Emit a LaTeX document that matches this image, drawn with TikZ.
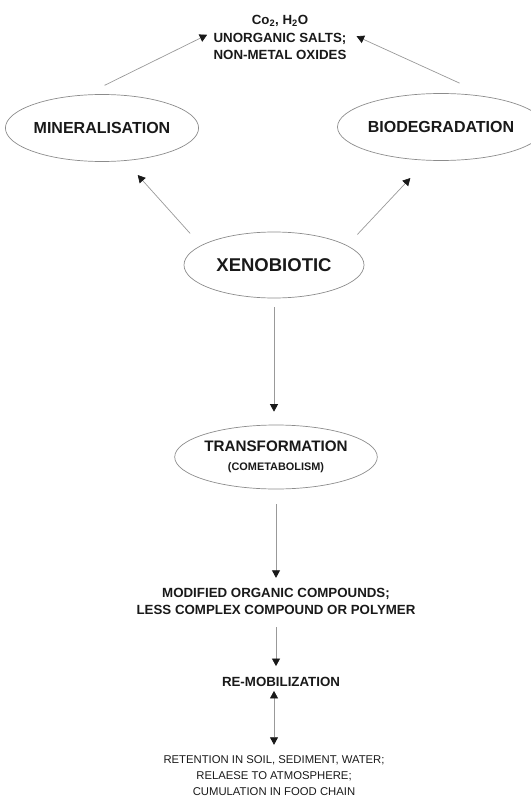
\documentclass[tikz,border=0pt]{standalone}
\usepackage{fontspec}
\setmainfont{Liberation Sans}
\usepackage{tikz}
\usetikzlibrary{arrows.meta}
\usetikzlibrary{shapes.geometric}
\tikzset{stage/.style={ellipse,draw=black!45,line width=0.7pt,inner sep=0pt,text=black!90,font=\bfseries\fontsize{16}{18}\selectfont}}
\tikzset{caption/.style={align=center,inner sep=0pt,text=black!90,font=\bfseries\fontsize{13.3}{17.5}\selectfont}}
\tikzset{flow/.style={draw=black!40,line width=0.7pt,>={Triangle[width=8pt,length=7.5pt,color=black!90]},->}}

\begin{document}
\begin{tikzpicture}[x=1pt,y=-1pt]
\useasboundingbox (0,0) rectangle (530,802);

\node[caption] (prod) at (280,37.5) {Co\textsubscript{2}, H\textsubscript{2}O\\UNORGANIC SALTS;\\NON-METAL OXIDES};
\node[stage,minimum width=180pt,minimum height=67pt] (mineral) at (102,128) {MINERALISATION};
\node[stage,minimum width=176pt,minimum height=67pt] (biodeg) at (441,127) {BIODEGRADATION};
\node[stage,minimum width=180pt,minimum height=66pt,font=\bfseries\fontsize{18.5}{20}\selectfont] (xeno) at (274,265) {XENOBIOTIC};
\node[stage,minimum width=178pt,minimum height=64pt,align=center,font=\bfseries\fontsize{15.2}{19}\selectfont] (trans) at (276,457) {TRANSFORMATION\\{\fontsize{10.9}{12}\selectfont (COMETABOLISM)}};
\node[caption] (modif) at (276,601.5) {MODIFIED ORGANIC COMPOUNDS;\\LESS COMPLEX COMPOUND OR POLYMER};
\node[caption] (remob) at (281,682) {RE-MOBILIZATION};
\node[caption,font=\fontsize{11.3}{16}\selectfont] (fate) at (274,776) {RETENTION IN SOIL, SEDIMENT, WATER;\\RELAESE TO ATMOSPHERE;\\CUMULATION IN FOOD CHAIN};

% towards the end products
\draw[flow,shorten <=21pt,shorten >=7pt] (mineral.116) -- (prod.175);
\draw[flow,shorten <=34pt,shorten >=11pt] (biodeg.31) -- (prod.5);
\draw[flow,shorten <=16pt,shorten >=19pt] (xeno.165) -- (mineral.-55);
\draw[flow,shorten <=15pt,shorten >=24pt] (xeno.15) -- (biodeg.-113);

% main chain downwards
\draw[flow,shorten <=9pt,shorten >=13pt] (xeno.south) -- (xeno.south |- trans.north);
\draw[flow,shorten <=15pt,shorten >=10pt] (trans.south -| modif.north) -- (modif.north);
\draw[flow,shorten <=12pt,shorten >=11pt] (modif.south) -- (modif.south |- remob.north);
\draw[flow,<->,shorten <=4pt,shorten >=11pt] (remob.south -| fate.north) -- (fate.north);
%\draw[flow] (modif.east) -- ++(40,0);

\end{tikzpicture}
\end{document}
